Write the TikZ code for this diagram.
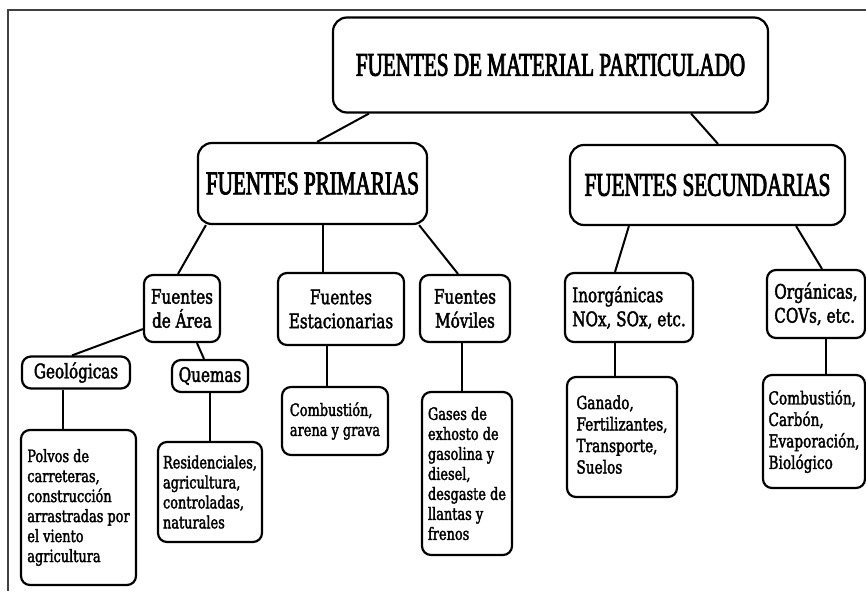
\documentclass[tikz,border=0pt]{standalone}
\usepackage{fontspec}
\usetikzlibrary{calc}
\newfontfamily\headfont[FakeStretch=0.64,FakeBold=2.5]{Liberation Serif}
\newfontfamily\bodyfont[FakeStretch=0.76,FakeBold=2]{DejaVu Serif}
\begin{document}
\begin{tikzpicture}[x=1pt,y=-1pt,
  box/.style={draw, line width=2.2pt, rounded corners=11pt, inner sep=3pt},
  headbox/.style={box, rounded corners=14pt, font=\headfont\fontsize{33}{36}\selectfont},
  midbox/.style={box, font=\bodyfont\fontsize{20}{24}\selectfont, align=center, rounded corners=9pt},
  smallbox/.style={box, font=\bodyfont\fontsize{17}{20}\selectfont, align=left, rounded corners=9pt},
  conn/.style={line width=2pt},
]
\useasboundingbox (0,0) rectangle (866,591);
\draw[line width=1.6pt, black!75] (866,10) -- (8,10) -- (8,591);

% level 0
\node[headbox, minimum width=435pt, minimum height=95pt] (top) at (550.5,65) {\raisebox{-7pt}{FUENTES DE MATERIAL PARTICULADO}};
% level 1
\node[headbox, minimum width=229pt, minimum height=81pt] (prim) at (312.5,183.5) {FUENTES PRIMARIAS};
\node[headbox, minimum width=275pt, minimum height=80pt] (sec) at (707.5,185) {FUENTES SECUNDARIAS};
% level 2
\node[midbox, minimum width=76pt, minimum height=67pt] (area) at (182,308.5) {Fuentes\\de Área};
\node[midbox, minimum width=126pt, minimum height=72pt] (est) at (341,309) {Fuentes\\Estacionarias};
\node[midbox, minimum width=90pt, minimum height=67pt] (mov) at (465,308.5) {Fuentes\\Móviles};
\node[midbox, align=left, minimum width=128pt, minimum height=69pt] (inorg) at (629,307.5) {Inorgánicas\\NOx, SOx, etc.};
\node[midbox, align=left, minimum width=98pt, minimum height=68pt] (org) at (816,304) {Orgánicas,\\COVs, etc.};
% level 3
\node[midbox, minimum width=108pt, minimum height=32pt] (geo) at (76,372.5) {Geológicas};
\node[midbox, minimum width=76pt, minimum height=32pt] (quem) at (210,376) {Quemas};
% leaves
\node[smallbox, minimum width=115pt, minimum height=155pt] (polvos) at (78.5,507.5) {Polvos de\\carreteras,\\construcción\\arrastradas por\\el viento\\agricultura};
\node[smallbox, minimum width=104pt, minimum height=100pt] (resid) at (210,492) {Residenciales,\\agricultura,\\controladas,\\naturales};
\node[smallbox, minimum width=106pt, minimum height=68pt] (comb1) at (335,421) {Combustión,\\arena y grava};
\node[smallbox, minimum width=90pt, minimum height=163pt] (gases) at (467,473.5) {Gases de\\exhosto de\\gasolina y\\diesel,\\desgaste de\\llantas y\\frenos};
\node[smallbox, font=\bodyfont\fontsize{18}{21.5}\selectfont, minimum width=110pt, minimum height=120pt] (ganado) at (622,437) {\raisebox{8pt}{\begin{tabular}{@{}l@{}}Ganado,\\Fertilizantes,\\Transporte,\\Suelos\end{tabular}}};
\node[smallbox, font=\bodyfont\fontsize{18}{21.5}\selectfont, minimum width=102pt, minimum height=113pt] (comb2) at (814,431.5) {Combustión,\\Carbón,\\Evaporación,\\Biológico};

% connectors
\draw[conn] ($(top.south west)+(37,0)$) -- ($(prim.north)+(4.5,0)$);
\draw[conn] ($(top.south east)+(-78,0)$) -- ($(sec.north)+(10.5,0)$);
\draw[conn] ($(prim.south west)+(9,0)$) -- ($(area.north)+(-4,0)$);
\draw[conn] ($(prim.south)+(10.5,0)$) -- ($(est.north)+(-18,0)$);
\draw[conn] ($(prim.south east)+(-9,0)$) -- ($(mov.north)+(-7,0)$);
\draw[conn] ($(sec.south west)+(60,0)$) -- ($(inorg.north)+(-14,0)$);
\draw[conn] ($(sec.south east)+(-50,0)$) -- ($(org.north)+(6,0)$);
\draw[conn] ($(area.south west)+(0,-14)$) -- ($(geo.north)+(-4,0)$);
\draw[conn] ($(area.south)+(15,0)$) -- ($(quem.north)+(-6,0)$);
\draw[conn] ($(geo.south)+(-13,0)$) -- ($(polvos.north)+(-15.5,0)$);
\draw[conn] (quem.south) -- (resid.north);
\draw[conn] ($(est.south)+(-14,0)$) -- ($(comb1.north)+(-8,0)$);
\draw[conn] ($(mov.south)+(-3,0)$) -- ($(gases.north)+(-5,0)$);
\draw[conn] ($(inorg.south)+(-14,0)$) -- ($(ganado.north)+(-7,0)$);
\draw[conn] ($(org.south)+(10,0)$) -- ($(comb2.north)+(12,0)$);
\end{tikzpicture}
\end{document}
